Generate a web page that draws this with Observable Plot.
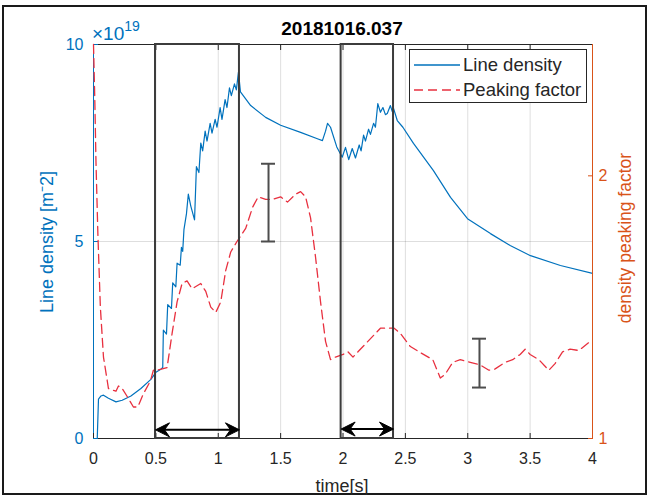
<!DOCTYPE html>
<html><head><meta charset="utf-8">
<script src="https://cdn.jsdelivr.net/npm/d3@7"></script>
<script src="https://cdn.jsdelivr.net/npm/@observablehq/plot@0.6"></script>
<style>
body{margin:0;background:#fff;font-family:"Liberation Sans",Arial,sans-serif;}
#wrap{position:relative;width:649px;height:495px;overflow:hidden;background:#fff}
#wrap svg{position:absolute;left:0;top:0}
.t{position:absolute;white-space:nowrap;color:#262626;line-height:1}
#frame{position:absolute;left:2px;top:5px;width:641px;height:486px;border:2px solid #1a1a1a}
#legend{position:absolute;left:409px;top:49px;width:176px;height:52px;border:1px solid #262626;background:#fff}
</style></head><body><div id="wrap"><div id="frame"></div></div>
<script>
// ---- data ----
const densityTime = [0,0.03,0.04,0.06,0.08,0.12,0.18,0.23,0.30,0.38,0.46,0.50,0.54,0.555,0.56,0.585,0.595,0.625,0.635,0.66,0.67,0.695,0.705,0.715,0.725,0.745,0.76,0.78,0.81,0.825,0.845,0.86,0.875,0.895,0.91,0.935,0.95,0.975,0.99,1.015,1.03,1.055,1.07,1.09,1.105,1.13,1.145,1.162,1.178,1.26,1.38,1.50,1.66,1.80,1.835,1.86,1.876,1.90,1.95,1.994,2.02,2.046,2.074,2.10,2.13,2.145,2.165,2.18,2.205,2.22,2.245,2.26,2.279,2.30,2.32,2.34,2.355,2.38,2.395,2.405,2.435,2.48,2.565,2.725,2.862,2.998,3.182,3.34,3.503,3.743,4.0];
const densityValue = [0,0,1.0,1.08,1.1,1.02,0.93,0.97,1.08,1.27,1.5,1.68,1.76,1.8,2.75,2.65,3.4,3.3,3.95,3.85,4.45,4.4,4.85,4.75,5.3,5.7,6.2,5.9,5.55,6.9,6.75,7.5,7.3,7.8,7.55,8.0,7.75,8.1,7.9,8.4,8.1,8.6,8.4,8.9,8.7,9.0,8.85,9.3,8.8,8.45,8.15,7.95,7.77,7.6,7.56,7.8,8.0,7.9,7.4,7.14,7.39,7.08,7.36,7.12,7.45,7.3,7.7,7.55,7.85,7.72,8.0,7.9,8.5,8.28,8.4,8.22,8.25,8.45,8.3,8.38,8.07,7.9,7.49,6.8,6.12,5.58,5.2,4.9,4.64,4.39,4.19];
const peakTime = [0,0.01,0.02,0.035,0.055,0.08,0.12,0.18,0.2,0.23,0.27,0.32,0.355,0.40,0.457,0.48,0.51,0.59,0.63,0.67,0.71,0.75,0.79,0.86,0.90,0.94,0.98,1.02,1.06,1.10,1.15,1.22,1.275,1.32,1.38,1.435,1.50,1.555,1.62,1.66,1.70,1.74,1.78,1.82,1.86,1.90,1.94,2.0,2.04,2.08,2.12,2.18,2.26,2.30,2.36,2.41,2.46,2.54,2.61,2.72,2.78,2.82,2.88,2.94,3.02,3.10,3.17,3.22,3.30,3.36,3.42,3.46,3.50,3.57,3.65,3.70,3.76,3.82,3.89,3.97,4.0];
const peakValue = [2.5,2.3,2.05,1.78,1.5,1.31,1.19,1.18,1.2,1.19,1.16,1.12,1.12,1.17,1.22,1.26,1.26,1.27,1.40,1.52,1.59,1.60,1.57,1.59,1.56,1.50,1.48,1.52,1.64,1.71,1.75,1.80,1.88,1.92,1.91,1.91,1.92,1.90,1.93,1.94,1.92,1.84,1.69,1.52,1.37,1.30,1.31,1.32,1.33,1.31,1.33,1.36,1.40,1.42,1.42,1.42,1.40,1.35,1.33,1.30,1.23,1.245,1.29,1.30,1.29,1.28,1.26,1.265,1.29,1.30,1.32,1.34,1.32,1.30,1.26,1.285,1.33,1.34,1.335,1.365,1.37];
const errorTime = [1.403, 3.094];
const errorLow = [1.75, 1.194];
const errorHigh = [2.046, 1.38];
const windowStart = [0.497, 1.985];
const windowEnd = [1.17, 2.405];
const arrowLevel = [0.22, 0.24];
const xTicks = [0,0.5,1,1.5,2,2.5,3,3.5,4];
const leftTicks = [0,5,10];
const rightTicks = [1,2];
const xDomain = [0,4], leftDomain = [0,10], rightDomain = [1,2.5];

// ---- styling ----
const W = 649, H = 495;
const M = {marginTop:44, marginRight:57, marginBottom:57, marginLeft:93};
const blue = "#0072BD", orange = "#D95319", red = "#E8303F", ink = "#262626";
const font = '"Liberation Sans", Arial, sans-serif';
const base = {width:W, height:H, ...M, style:{fontFamily:font, fontSize:"16px", background:"transparent", overflow:"visible"}};

const density = densityTime.map((t,i)=>({t, v:densityValue[i]}));
const peak = peakTime.map((t,i)=>({t, v:peakValue[i]}));
const errs = errorTime.map((t,i)=>({t, lo:errorLow[i], hi:errorHigh[i]}));
const wins = windowStart.map((s,i)=>({s, e:windowEnd[i], y:arrowLevel[i]}));
const heads = wins.flatMap(w=>[{x:w.s, y:w.y, r:0},{x:w.e, y:w.y, r:180}]);
const arrowHead = {draw(ctx){ ctx.moveTo(0,0); ctx.lineTo(14,-7); ctx.lineTo(9,0); ctx.lineTo(14,7); ctx.closePath(); }};

const p1 = Plot.plot({...base,
  x:{domain:xDomain}, y:{domain:leftDomain},
  marks:[
    Plot.gridX(xTicks.slice(1,-1), {stroke:"#000", strokeOpacity:0.13}),
    Plot.gridY([5], {stroke:"#000", strokeOpacity:0.13}),
    Plot.line(density, {x:"t", y:"v", stroke:blue, strokeWidth:1.2}),
    Plot.ruleY([0], {stroke:ink}),
    Plot.ruleY([10], {stroke:ink}),
    Plot.ruleX([0], {stroke:blue}),
    Plot.axisX({ticks:xTicks, anchor:"bottom", tickSize:-5, tickPadding:19, tickFormat:d=>String(d), color:ink, fontSize:16, label:null}),
    Plot.axisX({ticks:xTicks, anchor:"top", tickSize:-5, tickFormat:()=>"", color:ink, label:null}),
    Plot.axisY({ticks:leftTicks, anchor:"left", tickSize:-5, tickPadding:15, tickFormat:d=>String(d), color:blue, fontSize:16, label:null})
  ]
});
const p2 = Plot.plot({...base,
  x:{domain:xDomain, axis:null}, y:{domain:rightDomain},
  marks:[
    Plot.line(peak, {x:"t", y:"v", stroke:red, strokeWidth:1.3, strokeDasharray:"9,5"}),
    Plot.ruleX(errs, {x:"t", y1:"lo", y2:"hi", stroke:"#4d4d4d", strokeWidth:2}),
    Plot.ruleY(errs, {y:"lo", x1:"t", x2:"t", insetLeft:-7, insetRight:-7, stroke:"#4d4d4d", strokeWidth:2}),
    Plot.ruleY(errs, {y:"hi", x1:"t", x2:"t", insetLeft:-7, insetRight:-7, stroke:"#4d4d4d", strokeWidth:2}),
    Plot.ruleX([4], {stroke:orange}),
    Plot.axisY({ticks:rightTicks, anchor:"right", tickSize:-5, tickPadding:11, tickFormat:d=>String(d), color:orange, fontSize:16, label:null})
  ]
});
const p3 = Plot.plot({...base,
  x:{domain:xDomain, axis:null}, y:{domain:leftDomain, axis:null},
  marks:[
    Plot.rect(wins, {x1:"s", x2:"e", y1:0, y2:10, fill:"none", stroke:"#3c3c3c", strokeWidth:2}),
    Plot.ruleY(wins, {y:"y", x1:"s", x2:"e", insetLeft:4, insetRight:4, stroke:"#000", strokeWidth:2}),
    Plot.dot(heads, {x:"x", y:"y", rotate:"r", symbol:arrowHead, fill:"#000", stroke:"#000", strokeWidth:1, r:5})
  ]
});
const wrap = document.getElementById("wrap");
wrap.append(p1, p2, p3);

function addText(txt, css){
  const d = document.createElement("div");
  d.className = "t"; d.innerHTML = txt; Object.assign(d.style, css); wrap.append(d); return d;
}
addText("20181016.037", {left:"342px", top:"28px", transform:"translate(-50%,-50%)", fontWeight:"bold", fontSize:"19px", color:"#000"});
addText("×10<sup style='font-size:14px;vertical-align:0;position:relative;top:-9px'>19</sup>", {left:"92px", top:"24px", fontSize:"19px", color:blue});
addText("Line density [m⁻2]", {left:"47px", top:"242px", transform:"translate(-50%,-50%) rotate(-90deg)", fontSize:"18px", color:blue});
addText("density peaking factor", {left:"626px", top:"238px", transform:"translate(-50%,-50%) rotate(-90deg)", fontSize:"17.5px", color:orange});
addText("time[s]", {left:"342px", top:"486px", transform:"translate(-50%,-50%)", fontSize:"18px", color:ink});

const lg = document.createElement("div"); lg.id = "legend";
lg.innerHTML = `<svg width="176" height="52" style="position:absolute;left:0;top:0">
<line x1="4" x2="50" y1="15" y2="15" stroke="${blue}" stroke-width="1.3"/>
<line x1="4" x2="50" y1="40" y2="40" stroke="${red}" stroke-width="1.3" stroke-dasharray="9,5"/>
</svg>
<div class="t" style="left:53px;top:15px;transform:translateY(-50%);font-size:18.5px">Line density</div>
<div class="t" style="left:53px;top:40px;transform:translateY(-50%);font-size:18.5px">Peaking factor</div>`;
wrap.append(lg);
</script></body></html>
